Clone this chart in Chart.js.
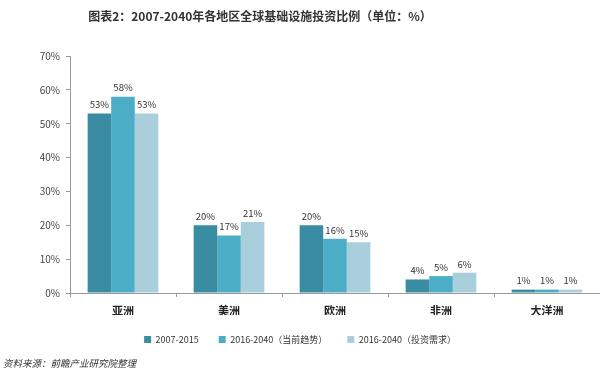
<!DOCTYPE html>
<html>
<head>
<meta charset="utf-8">
<script src="https://cdn.jsdelivr.net/npm/chart.js@4.4.0/dist/chart.umd.min.js"></script>
<style>
    body { margin: 0; background: #fff; }
    #wrap { position: relative; width: 600px; height: 381px; overflow: hidden; }
</style>
</head>
<body>
<div id="wrap"><canvas id="regionChart" width="600" height="381"></canvas></div>
<script>
// Regions and series values (percent)
const regions = ['亚洲', '美洲', '欧洲', '非洲', '大洋洲'];
const seriesNames = ['2007-2015', '2016-2040（当前趋势）', '2016-2040（投资需求）'];
const history0715 = [53, 20, 20, 4, 1];
const trend1640 = [58, 17, 16, 5, 1];
const need1640 = [53, 21, 15, 6, 1];
const yTicks = [0, 10, 20, 30, 40, 50, 60, 70];

const colors = ['#3a8ca3', '#4badc6', '#a9cfdc'];
const fontFamily = '"Noto Sans CJK SC", "Noto Sans", sans-serif';

// Draw the value labels above each bar
const barLabels = {
    id: 'barLabels',
    afterDatasetsDraw(chart) {
        const ctx = chart.ctx;
        ctx.save();
        ctx.font = '9.5px ' + fontFamily;
        ctx.fillStyle = '#333';
        ctx.textAlign = 'center';
        ctx.textBaseline = 'bottom';
        chart.data.datasets.forEach((ds, i) => {
            chart.getDatasetMeta(i).data.forEach((bar, j) => {
                ctx.fillText(ds.data[j] + '%', bar.x, bar.y - 4);
            });
        });
        ctx.restore();
    }
};

// Title and source note
const extraText = {
    id: 'extraText',
    afterDraw(chart) {
        const ctx = chart.ctx;
        ctx.save();
        ctx.fillStyle = '#333';
        ctx.textBaseline = 'middle';
        ctx.textAlign = 'center';
        ctx.font = 'bold 12px ' + fontFamily;
        ctx.fillText('图表2：2007-2040年各地区全球基础设施投资比例（单位：%）', 260, 16);
        ctx.textAlign = 'left';
        ctx.font = 'italic 9.5px ' + fontFamily;
        ctx.fillText('资料来源：前瞻产业研究院整理', 3, 363);
        ctx.restore();
    }
};

const ctx = document.getElementById('regionChart').getContext('2d');
const regionChart = new Chart(ctx, {
    type: 'bar',
    data: {
        labels: regions,
        datasets: [
            { label: seriesNames[0], data: history0715, backgroundColor: colors[0] },
            { label: seriesNames[1], data: trend1640, backgroundColor: colors[1] },
            { label: seriesNames[2], data: need1640, backgroundColor: colors[2] }
        ]
    },
    options: {
        responsive: false,
        animation: false,
        layout: {
            padding: { top: 56, right: 0, bottom: 27, left: 0 }
        },
        datasets: {
            bar: { categoryPercentage: 0.667, barPercentage: 1.0 }
        },
        scales: {
            x: {
                afterFit(scale) { scale.height = 22; },
                grid: { drawOnChartArea: false, tickLength: 4, color: '#999' },
                border: { color: '#999' },
                ticks: {
                    color: '#222',
                    font: { family: fontFamily, size: 11, weight: 'bold' },
                    padding: 7
                }
            },
            y: {
                min: 0,
                max: 70,
                afterFit(scale) { scale.width = 70; },
                afterBuildTicks(scale) { scale.ticks = yTicks.map(v => ({ value: v })); },
                grid: { drawOnChartArea: false, tickLength: 4, color: '#999' },
                border: { color: '#999' },
                ticks: {
                    color: '#444',
                    font: { family: fontFamily, size: 10 },
                    padding: 6,
                    callback: v => v + '%'
                }
            }
        },
        plugins: {
            legend: {
                position: 'bottom',
                labels: {
                    boxWidth: 7,
                    boxHeight: 7,
                    padding: 20,
                    color: '#333',
                    font: { family: fontFamily, size: 9 }
                }
            },
            tooltip: { enabled: false }
        }
    },
    plugins: [barLabels, extraText]
});
</script>
</body>
</html>
